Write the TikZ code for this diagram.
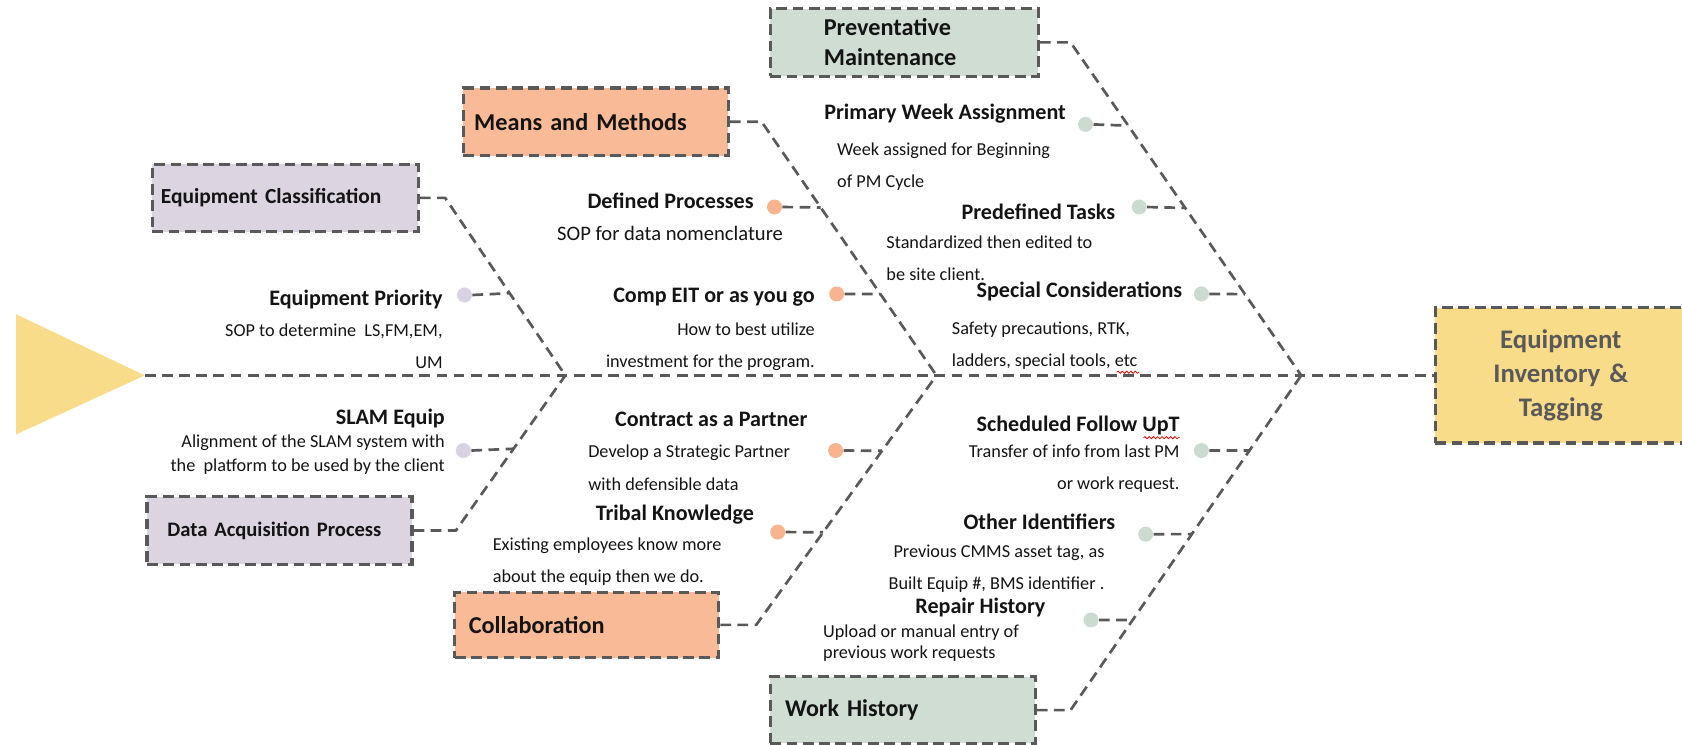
\documentclass[tikz,border=0pt]{standalone}
\usepackage{fontspec}
\setmainfont{Carlito}
\usetikzlibrary{calc,decorations.pathmorphing}
\definecolor{lc}{HTML}{595959}
\definecolor{lav}{HTML}{DCD4E1}
\definecolor{lavdot}{HTML}{D9D2E2}
\definecolor{salm}{HTML}{F9BB97}
\definecolor{salmdot}{HTML}{F8B48E}
\definecolor{sage}{HTML}{CFDDD3}
\definecolor{sagedot}{HTML}{CBDBCF}
\definecolor{gold}{HTML}{F8DC8A}
\definecolor{txt}{HTML}{141414}
\begin{document}
\begin{tikzpicture}[x=0.5pt,y=-0.5pt,
  bone/.style={draw=lc,line width=1.25pt,dash pattern=on 5pt off 3pt},
  box/.style={draw=lc,line width=1.5pt,dash pattern=on 5pt off 2.6pt,rectangle,inner ysep=0pt,align=left,text=txt},
  dot/.style={circle,inner sep=0pt,minimum size=7pt},
  hd/.style={inner sep=0pt,font=\fontsize{10.3}{12}\selectfont\bfseries,text=txt},
  bd/.style={inner sep=0pt,font=\fontsize{8.5}{15}\selectfont,text=txt},
  sq/.style={draw=red!85!black,line width=0.35pt,decorate,decoration={snake,amplitude=0.5pt,segment length=2pt}}]
\useasboundingbox (0,0) rectangle (1568,694);

% head triangle and effect
\coordinate (tip) at (135,350);
\fill[gold] (15,293) -- (tip) -- (15,405) -- cycle;
\node[box,fill=gold,minimum width=117pt,minimum height=63pt,text width=107pt,align=center,inner xsep=5pt,
  font=\fontsize{12.5}{16}\selectfont\bfseries,text=lc] (eff) at (1455,350) {Equipment\\Inventory \&\\Tagging};

% junctions on the spine
\coordinate (jL) at (527,350);
\coordinate (jM) at (873,350);
\coordinate (jR) at (1213,350);
\draw[bone] (tip) -- (eff.west);

% category boxes
\node[box,fill=sage,minimum width=125pt,minimum height=31.5pt,text width=75pt,inner xsep=25pt,
  font=\fontsize{11.3}{14}\selectfont\bfseries] (pm) at (843,39.5) {Preventative\\Maintenance};
\node[box,fill=sage,minimum width=123.5pt,minimum height=31pt,text width=109.5pt,inner xsep=7pt,
  font=\fontsize{11.2}{14}\selectfont\bfseries] (wh) at (841.5,662) {Work History};
\node[box,fill=salm,minimum width=123.5pt,minimum height=31.5pt,text width=113.5pt,inner xsep=5pt,
  font=\fontsize{11.3}{14}\selectfont\bfseries] (mm) at (555.5,113.5) {Means and Methods};
\node[box,fill=salm,minimum width=123pt,minimum height=30.5pt,text width=110pt,inner xsep=6.5pt,
  font=\fontsize{11.3}{14}\selectfont\bfseries] (co) at (547,582.5) {Collaboration};
\node[box,fill=lav,minimum width=124pt,minimum height=31.5pt,text width=116pt,inner xsep=4pt,
  font=\fontsize{10}{12}\selectfont\bfseries] (ec) at (266,184.5) {Equipment Classification};
\node[box,fill=lav,minimum width=123.5pt,minimum height=31.5pt,text width=104.5pt,inner xsep=9.5pt,
  font=\fontsize{9.6}{12}\selectfont\bfseries] (da) at (260.5,494.5) {Data Acquisition Process};

% main bones
\coordinate (pmk) at (998,39.5);
\coordinate (whk) at (998,662);
\coordinate (mmk) at (710,113.5);
\coordinate (cok) at (705,582.5);
\coordinate (eck) at (415,184.5);
\coordinate (dak) at (425,494.5);
\draw[bone] (pm.east) -- (pmk) -- (jR);
\draw[bone] (wh.east) -- (whk) -- (jR);
\draw[bone] (mm.east) -- (mmk) -- (jM);
\draw[bone] (co.east) -- (cok) -- (jM);
\draw[bone] (ec.east) -- (eck) -- (jL);
\draw[bone] (da.east) -- (dak) -- (jL);

% dots
\node[dot,fill=sagedot] (r1) at (1012,116) {};
\node[dot,fill=sagedot] (r2) at (1062,193) {};
\node[dot,fill=sagedot] (r3) at (1120,274) {};
\node[dot,fill=sagedot] (r4) at (1120,420) {};
\node[dot,fill=sagedot] (r5) at (1068,498) {};
\node[dot,fill=sagedot] (r6) at (1017,578) {};
\node[dot,fill=salmdot] (m1) at (722,193) {};
\node[dot,fill=salmdot] (m2) at (780,274) {};
\node[dot,fill=salmdot] (m3) at (779,420) {};
\node[dot,fill=salmdot] (m4) at (725,496) {};
\node[dot,fill=lavdot] (l1) at (433,275) {};
\node[dot,fill=lavdot] (l2) at (432,420) {};

% sub bones
\draw[bone] (r1.east) -- ($(pmk)!0.25!(jR)$);
\draw[bone] (r2.east) -- ($(pmk)!0.497!(jR)$);
\draw[bone] (r3.east) -- ($(pmk)!0.756!(jR)$);
\draw[bone] (r4.east) -- ($(whk)!0.776!(jR)$);
\draw[bone] (r5.east) -- ($(whk)!0.526!(jR)$);
\draw[bone] (r6.east) -- ($(whk)!0.269!(jR)$);
\draw[bone] (m1.east) -- ($(mmk)!0.338!(jM)$);
\draw[bone] (m2.east) -- ($(mmk)!0.679!(jM)$);
\draw[bone] (m3.east) -- ($(cok)!0.698!(jM)$);
\draw[bone] (m4.east) -- ($(cok)!0.371!(jM)$);
\draw[bone] (l1.east) -- ($(eck)!0.537!(jL)$);
\draw[bone] (l2.east) -- ($(dak)!0.527!(jL)$);

% labels upper right
\node[hd,anchor=west] (h1) at (768,106) {Primary Week Assignment};
\node[bd,anchor=west,align=left] (b1) at (780,155) {Week assigned for Beginning\\of PM Cycle};
\node[hd,anchor=east] (h2) at (1040,197) {Predefined Tasks};
\node[bd,anchor=west,align=left] (b2) at (826,240.5) {Standardized then edited to\\be site client.};
\node[hd,anchor=west] (h3) at (910,272) {Special Considerations};
\node[bd,anchor=west,align=left] (b3) at (887,322) {Safety precautions, RTK,\\ladders, special tools, etc};
% labels lower right
\node[hd,anchor=east] (h4) at (1100,397) {Scheduled Follow UpT};
\node[bd,anchor=east,align=right] (b4) at (1100,437) {Transfer of info from last PM\\or work request.};
\node[hd,anchor=east] (h5) at (1040,486) {Other Identifiers};
\node[bd,anchor=east,align=right] (b5) at (1030,530) {Previous CMMS asset tag, as\\Built Equip \#, BMS identifier .};
\node[hd,anchor=west] (h6) at (853,566) {Repair History};
\node[bd,anchor=west,align=left,font=\fontsize{8.5}{10}\selectfont] (b6) at (767,599.5) {Upload or manual entry of\\previous work requests};
% labels middle
\node[hd,anchor=east] (h7) at (703,187) {Defined Processes};
\node[bd,anchor=west,font=\fontsize{9.6}{12}\selectfont] (b7) at (519,218) {SOP for data nomenclature};
\node[hd,anchor=east] (h8) at (760,277) {Comp EIT or as you go};
\node[bd,anchor=east,align=right] (b8) at (760,323) {How to best utilize\\investment for the program.};
\node[hd,anchor=west] (h9) at (573,391) {Contract as a Partner};
\node[bd,anchor=west,align=left] (b9) at (548,436) {Develop a Strategic Partner\\with defensible data};
\node[hd,anchor=west] (h10) at (555,480) {Tribal Knowledge};
\node[bd,anchor=west,align=left] (b10) at (459,523.5) {Existing employees know more\\about the equip then we do.};
% labels left
\node[hd,anchor=east] (h11) at (413,279) {Equipment Priority};
\node[bd,anchor=east,align=right] (b11) at (413,322.5) {SOP to determine\ \ LS,FM,EM,\\UM};
\node[hd,anchor=east] (h12) at (415,390) {SLAM Equip};
\node[bd,anchor=east,align=right,font=\fontsize{8.5}{11}\selectfont] (b12) at (415,424) {Alignment of the SLAM system with\\the\ \ platform to be used by the client};

% spelling marks
\draw[sq] (1041,347) -- (1062,347);
\draw[sq] (1066,408) -- (1100,408);
\end{tikzpicture}
\end{document}
